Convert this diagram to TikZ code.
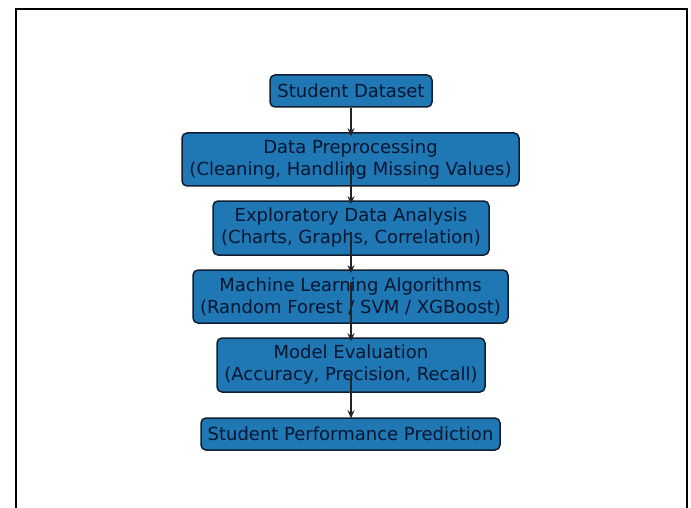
\documentclass[tikz,border=0pt]{standalone}
\usepackage{fontspec}
\setmainfont{DejaVu Sans}
\usetikzlibrary{arrows.meta}
\definecolor{boxfill}{RGB}{31,119,180}
\definecolor{boxedge}{RGB}{15,30,50}
\definecolor{boxtext}{RGB}{5,22,48}
\definecolor{arrowcol}{RGB}{35,35,40}
\begin{document}
\begin{tikzpicture}[x=1pt,y=-1pt,
  stepbox/.style={draw=boxedge, line width=1.5pt, fill=boxfill, rounded corners=5pt,
    text=boxtext, align=center, inner sep=0pt,
    font=\fontsize{18}{22}\selectfont},
  flow/.style={draw=arrowcol, line width=1.5pt, -{Stealth[length=8pt,width=7pt]}}]
\useasboundingbox (0,0) rectangle (691,508);
\fill[white] (0,0) rectangle (691,508);
\draw[line width=2pt, black] (15.5,508) -- (15.5,9.5) -- (687,9.5) -- (687,508);
\node[stepbox, minimum width=162pt, minimum height=32pt] (b1) at (351,91) {Student Dataset};
\node[stepbox, minimum width=337pt, minimum height=53pt] (b2) at (350.5,159.5) {Data Preprocessing\\(Cleaning, Handling Missing Values)};
\node[stepbox, minimum width=276pt, minimum height=54pt] (b3) at (351,228) {Exploratory Data Analysis\\(Charts, Graphs, Correlation)};
\node[stepbox, minimum width=315pt, minimum height=53pt] (b4) at (350.5,296.5) {Machine Learning Algorithms\\(Random Forest / SVM / XGBoost)};
\node[stepbox, minimum width=268pt, minimum height=54pt] (b5) at (351,365) {Model Evaluation\\(Accuracy, Precision, Recall)};
\node[stepbox, minimum width=299pt, minimum height=32pt] (b6) at (350.5,434) {Student Performance Prediction};
\draw[flow] (b1.south -| 351,0) -- ([yshift=-4pt]b2.north -| 351,0);
\draw[flow] (351,162) -- ([yshift=-4pt]b3.north -| 351,0);
\draw[flow] (351,232) -- ([yshift=-4pt]b4.north -| 351,0);
\draw[flow] (351,282) -- ([yshift=-4pt]b5.north -| 351,0);
\draw[flow] (351,376) -- ([yshift=-1pt]b6.north -| 351,0);
\end{tikzpicture}
\end{document}
